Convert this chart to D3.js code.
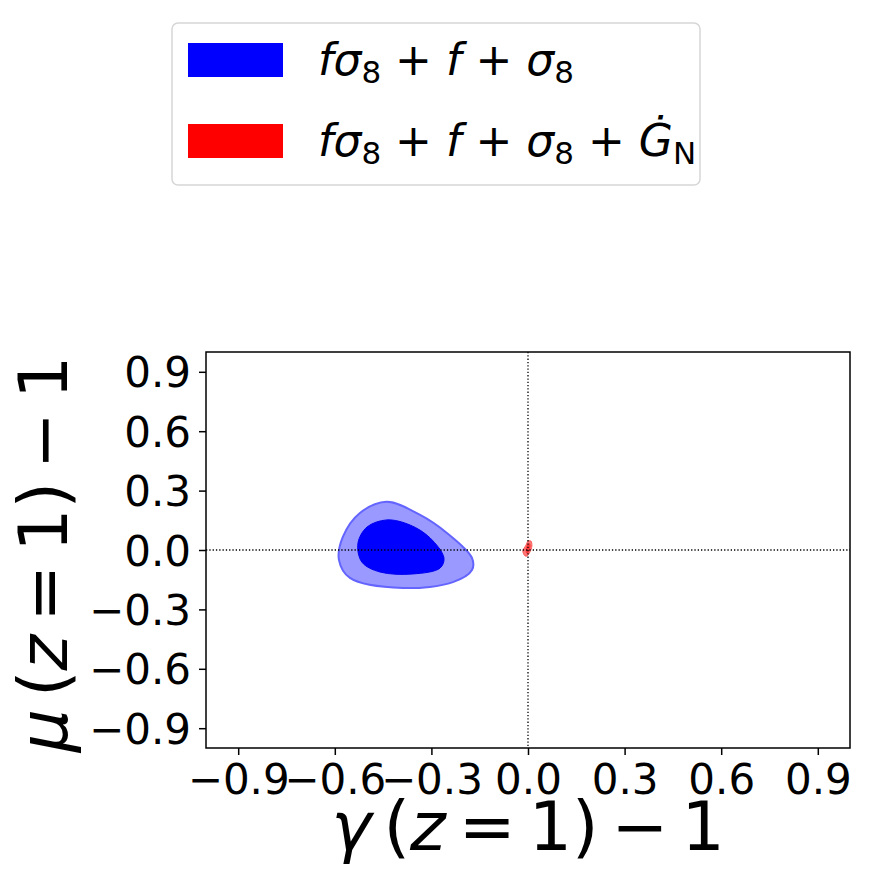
<!DOCTYPE html>
<html>
<head>
<meta charset="utf-8">
<script src="https://cdn.jsdelivr.net/npm/d3@7"></script>
<style>
  body { margin: 0; background: #fff; }
  text { font-family: "DejaVu Sans", sans-serif; fill: #000; }
</style>
</head>
<body>
<svg id="chart" width="873" height="881"></svg>
<script>
// tick values on both axes
let ticks = [-0.9, -0.6, -0.3, 0.0, 0.3, 0.6, 0.9];

// blue (f sigma8 + f + sigma8) contours, 2 sigma then 1 sigma
let blueOuterGamma = [-0.439, -0.522, -0.575, -0.587, -0.553, -0.388, -0.233, -0.174, -0.174, -0.252, -0.335];
let blueOuterMu    = [ 0.244,  0.187,  0.066, -0.051, -0.141, -0.192, -0.162, -0.101, -0.040,  0.086,  0.177];
let blueInnerGamma = [-0.438, -0.500, -0.528, -0.516, -0.460, -0.357, -0.273, -0.261, -0.304, -0.366];
let blueInnerMu    = [ 0.152,  0.116,  0.035, -0.061, -0.111, -0.121, -0.091, -0.040,  0.061,  0.126];

// red (+ G_N dot) contours, tiny blob round the origin
let redOuterGamma = [-0.009, -0.016, -0.006, 0.000, 0.009, 0.012, 0.006, -0.003];
let redOuterMu    = [-0.030, -0.005,  0.025, 0.045, 0.045, 0.020, -0.010, -0.030];
let redInnerGamma = [-0.006, -0.006, 0.003, 0.008, 0.004, -0.001];
let redInnerMu    = [-0.015,  0.015, 0.035, 0.025, -0.005, -0.018];

let svg = d3.select("#chart");
let margin = {left: 206, right: 23, top: 352, bottom: 133};
let width = 873 - margin.left - margin.right,
    height = 881 - margin.top - margin.bottom;

let x = d3.scaleLinear().domain([-1, 1]).range([0, width]);
let y = d3.scaleLinear().domain([-1, 1]).range([height, 0]);

let g = svg.append("g").attr("transform", "translate(" + margin.left + "," + margin.top + ")");

function pts(gs, ms) {
  return gs.map((v, i) => [v, ms[i]]);
}
let line = d3.line().x(d => x(d[0])).y(d => y(d[1])).curve(d3.curveCatmullRomClosed.alpha(0.5));

// contours
g.append("path").attr("d", line(pts(blueOuterGamma, blueOuterMu)))
  .attr("fill", "rgb(153,153,255)").attr("stroke", "rgb(100,100,255)").attr("stroke-width", 2);
g.append("path").attr("d", line(pts(blueInnerGamma, blueInnerMu)))
  .attr("fill", "rgb(0,0,255)").attr("stroke", "rgb(0,0,240)").attr("stroke-width", 1);
g.append("path").attr("d", line(pts(redOuterGamma, redOuterMu)))
  .attr("fill", "rgb(255,120,120)").attr("stroke", "rgb(255,90,90)").attr("stroke-width", 1);
g.append("path").attr("d", line(pts(redInnerGamma, redInnerMu)))
  .attr("fill", "rgb(255,60,60)");

// dotted zero lines
g.append("line").attr("x1", x(0)).attr("x2", x(0)).attr("y1", 0).attr("y2", height)
  .attr("stroke", "#000").attr("stroke-width", 1.3).attr("stroke-dasharray", "1.3,2");
g.append("line").attr("x1", 0).attr("x2", width).attr("y1", y(0)).attr("y2", y(0))
  .attr("stroke", "#000").attr("stroke-width", 1.3).attr("stroke-dasharray", "1.3,2");

// axes
let fmt = d => (d < 0 ? "\u2212" : "") + Math.abs(d).toFixed(1);
let xAxis = g.append("g").attr("transform", "translate(0," + height + ")")
  .call(d3.axisBottom(x).tickValues(ticks).tickFormat(fmt).tickSize(7).tickPadding(6));
let yAxis = g.append("g")
  .call(d3.axisLeft(y).tickValues(ticks).tickFormat(fmt).tickSize(7).tickPadding(8));
[xAxis, yAxis].forEach(a => {
  a.select(".domain").remove();
  a.selectAll("line").attr("stroke", "#000").attr("stroke-width", 1.5);
  a.selectAll("text").attr("font-size", 42).attr("font-family", "DejaVu Sans");
});
xAxis.selectAll("text").attr("dy", "0.78em");
yAxis.selectAll("text").attr("dy", "0.36em");

// frame
g.append("rect").attr("width", width).attr("height", height)
  .attr("fill", "none").attr("stroke", "#000").attr("stroke-width", 1.5);

// axis labels, mathtext-like spacing
function mathLabel(sel, greek) {
  sel.append("tspan").attr("font-style", "italic").text(greek);
  sel.append("tspan").attr("dx", 12).text("(");
  sel.append("tspan").attr("font-style", "italic").text("z");
  sel.append("tspan").attr("dx", 13).text("=");
  sel.append("tspan").attr("dx", 13).text("1)");
  sel.append("tspan").attr("dx", 13).text("\u2212");
  sel.append("tspan").attr("dx", 13).text("1");
}
let xl = svg.append("text").attr("x", margin.left + width / 2).attr("y", 850)
  .attr("text-anchor", "middle").attr("font-size", 68);
mathLabel(xl, "\u03b3");

let yl = svg.append("text")
  .attr("transform", "translate(67," + (margin.top + height / 2 + 4) + ") rotate(-90)")
  .attr("text-anchor", "middle").attr("font-size", 68);
mathLabel(yl, "\u03bc");

// legend
let legend = svg.append("g");
legend.append("rect").attr("x", 172).attr("y", 23).attr("width", 528).attr("height", 162)
  .attr("rx", 6).attr("fill", "#fff").attr("stroke", "#d6d6d6").attr("stroke-width", 1.5);

let entries = [
  {color: "rgb(0,0,255)", gdot: false},
  {color: "rgb(255,0,0)", gdot: true}
];
entries.forEach((e, i) => {
  let cy = 60 + i * 81;
  legend.append("rect").attr("x", 188).attr("y", cy - 17).attr("width", 95).attr("height", 34)
    .attr("fill", e.color);
  let t = legend.append("text").attr("x", 318).attr("y", cy + 15).attr("font-size", 44);
  t.append("tspan").attr("font-style", "italic").text("f\u03c3");
  t.append("tspan").attr("font-size", 31).attr("dy", 8).text("8");
  t.append("tspan").attr("dy", -8).text(" + ");
  t.append("tspan").attr("font-style", "italic").text("f");
  t.append("tspan").text(" + ");
  t.append("tspan").attr("font-style", "italic").text("\u03c3");
  t.append("tspan").attr("font-size", 31).attr("dy", 8).text("8");
  if (e.gdot) {
    t.append("tspan").attr("dy", -8).text(" + ");
    t.append("tspan").attr("font-style", "italic").text("\u0120");
    t.append("tspan").attr("font-size", 31).attr("dy", 8).text("N");
  }
});
</script>
</body>
</html>
